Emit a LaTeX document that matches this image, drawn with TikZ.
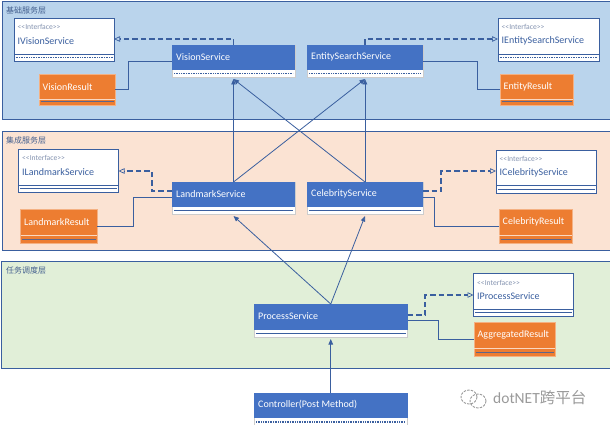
\documentclass[tikz,border=0pt]{standalone}
\usepackage{fontspec}
\setmainfont{Carlito}
\newfontfamily\cjkfont{Noto Sans CJK SC}
\usetikzlibrary{arrows.meta}
\definecolor{edgeblue}{HTML}{3A5F9F}
\definecolor{headblue}{HTML}{4472C4}
\definecolor{resorange}{HTML}{ED7D31}
\definecolor{layerblue}{HTML}{BAD4EC}
\definecolor{layerorange}{HTML}{FBE3D3}
\definecolor{layergreen}{HTML}{E1EFD8}
\definecolor{labelink}{HTML}{44608F}
\definecolor{stereoink}{HTML}{8493B0}
\definecolor{markgrey}{HTML}{9A9A9A}
\tikzset{
  layerbox/.style={draw=edgeblue,line width=0.9pt,inner sep=0pt,outer sep=0pt,anchor=north west},
  layerlabel/.style={anchor=west,inner sep=0pt,text=labelink,font=\cjkfont\fontsize{8}{9}\selectfont},
  ifacebox/.style={draw=edgeblue,fill=white,line width=0.8pt,inner sep=0pt,outer sep=0pt,anchor=north west},
  classbox/.style={draw=black!20,fill=white,line width=0.6pt,inner sep=0pt,outer sep=0pt,anchor=north west},
  resultbox/.style={draw=resorange!60,fill=resorange,line width=0.6pt,inner sep=0pt,outer sep=0pt,anchor=north west},
  namelabel/.style={anchor=west,inner sep=0pt,font=\fontsize{10}{12}\selectfont},
  stereolabel/.style={anchor=west,inner sep=0pt,text=stereoink,font=\fontsize{7.6}{9}\selectfont},
  realizes/.style={draw=edgeblue,line width=1.7pt,dash pattern=on 5.5pt off 3pt,shorten >=6pt},
  hollowtip/.style={draw=edgeblue,line width=0.7pt,-{Triangle[open,length=6pt,width=5.5pt]}},
  assoc/.style={draw=edgeblue,line width=0.8pt},
  uses/.style={draw=edgeblue,line width=0.8pt,-{Triangle[length=5.5pt,width=4.5pt]}},
  strip/.style={draw=edgeblue,line width=1pt},
  dotstrip/.style={draw=edgeblue,line width=1.2pt,dash pattern=on 1pt off 0.7pt},
}
% name, x1, y1, x2, y2, style
\newcommand{\placebox}[6]{%
  \pgfmathsetlengthmacro{\boxw}{(#4-#2)*1pt}%
  \pgfmathsetlengthmacro{\boxh}{(#5-#3)*1pt}%
  \node[#6,minimum width=\boxw,minimum height=\boxh] (#1) at (#2,#3) {};
}
% name, x1, y1, x2, y2, ydiv, strip style, text
\newcommand{\ifaceitem}[8]{%
  \placebox{#1}{#2}{#3}{#4}{#5}{ifacebox}
  \draw[edgeblue,line width=0.8pt] (#2,#6) -- (#4,#6);
  \path[#7] (#2+1.5,{(#6+#5)/2}) -- (#4-1.5,{(#6+#5)/2});
  \node[stereolabel] (#1-s) at (#2+3.5,#3+9) {<{}<Interface>{}>};
  \node[namelabel,text=edgeblue] (#1-t) at (#2+3.5,#3+23) {#8};
}
\newcommand{\classitem}[8]{%
  \placebox{#1}{#2}{#3}{#4}{#5}{classbox}
  \fill[headblue] (#2,#3) rectangle (#4,#6);
  \path[#7] (#2+2,{(#6+#5)/2}) -- (#4-2,{(#6+#5)/2});
  \node[namelabel,text=white] (#1-t) at (#2+4,#3+12) {#8};
}
\newcommand{\resultitem}[7]{%
  \placebox{#1}{#2}{#3}{#4}{#5}{resultbox}
  \draw[white!70!resorange,line width=0.6pt] (#2,#6) -- (#4,#6);
  \draw[edgeblue!80!resorange,line width=1pt] (#2+1.5,{(#6+#5)/2}) -- (#4-1.5,{(#6+#5)/2});
  \node[namelabel,text=white] (#1-t) at (#2+3.5,#3+13) {#7};
}
\begin{document}
\begin{tikzpicture}[x=1pt,y=-1pt]
\useasboundingbox (0,0) rectangle (610,425);
\clip (0,0) rectangle (610,425);
\fill[white] (0,0) rectangle (610,425);
% layers
\placebox{layerA}{2.5}{1}{612}{119.5}{layerbox,fill=layerblue}
\placebox{layerB}{2.5}{131}{612}{250}{layerbox,fill=layerorange}
\placebox{layerC}{1.5}{261}{612}{368}{layerbox,fill=layergreen}
\node[layerlabel] (layerA-t) at (6,10.5) {基础服务层};
\node[layerlabel] (layerB-t) at (6,140.5) {集成服务层};
\node[layerlabel] (layerC-t) at (6,270.5) {任务调度层};
% interfaces
\ifaceitem{ivs}{14}{18}{114}{61}{54}{dotstrip}{IVisionService}
\ifaceitem{ies}{498}{18}{599.5}{61}{54}{dotstrip}{IEntitySearchService}
\ifaceitem{ils}{18.5}{149}{118.5}{192.5}{185}{strip}{ILandmarkService}
\ifaceitem{ics}{496}{150}{596.5}{193}{185}{strip}{ICelebrityService}
\ifaceitem{ips}{473.5}{273.5}{573.5}{316.5}{309}{strip}{IProcessService}
% services
\classitem{vs}{172}{45}{295}{77}{70}{dotstrip}{VisionService}
\classitem{es}{307}{45}{423}{77}{70}{dotstrip}{EntitySearchService}
\classitem{ls}{172}{182}{295}{214}{207}{strip}{LandmarkService}
\classitem{cs}{307}{182}{423}{214}{207}{strip}{CelebrityService}
\classitem{ps}{254}{304}{407.5}{337}{330}{strip}{ProcessService}
\classitem{ctl}{254}{393}{407.5}{426}{418}{dotstrip}{Controller(Post Method)}
% results
\resultitem{vr}{39}{74}{115}{105}{99}{VisionResult}
\resultitem{er}{500}{74}{573}{105}{99}{EntityResult}
\resultitem{lr}{20.5}{209}{97}{243}{235}{LandmarkResult}
\resultitem{cr}{499}{209}{572}{243}{235}{CelebrityResult}
\resultitem{ar}{474}{322}{555}{356}{348}{AggregatedResult}
% realization (dashed, hollow head)
\draw[realizes] (vs.north) |- ([yshift=.5pt]ivs.east);
\draw[hollowtip] ([xshift=6.5pt,yshift=.5pt]ivs.east) -- ([yshift=.5pt]ivs.east);
\draw[realizes] (es.north) |- ([yshift=.5pt]ies.west);
\draw[hollowtip] ([xshift=-6.5pt,yshift=.5pt]ies.west) -- ([yshift=.5pt]ies.west);
\draw[realizes] ([yshift=7pt]ls.west) -- ++(-20,0) |- ([yshift=-.25pt]ils.east);
\draw[hollowtip] ([xshift=6.5pt,yshift=-.25pt]ils.east) -- ([yshift=-.25pt]ils.east);
\draw[realizes] ([yshift=7pt]cs.east) -- ++(18,0) |- ([yshift=.5pt]ics.west);
\draw[hollowtip] ([xshift=-6.5pt,yshift=.5pt]ics.west) -- ([yshift=.5pt]ics.west);
\draw[realizes] ([yshift=5.5pt]ps.east) -- ++(17.5,0) |- (ips.west);
\draw[hollowtip] ([xshift=-6.5pt]ips.west) -- (ips.west);
% associations
\draw[assoc] (vr.east) -- ++(13,0) |- (vs.west);
\draw[assoc] (es.east) -- ++(54,0) |- (er.west);
\draw[assoc] (lr.east) -- ++(36,0) |- ([yshift=1pt]ls.west);
\draw[assoc] ([yshift=1pt]cs.east) -- ++(11,0) |- (cr.west);
\draw[assoc] (ps.east) -- ++(30.5,0) |- (ar.west);
% dependencies
\draw[uses] (ls.north) -- ([yshift=-2pt]vs.south);
\draw[uses] (ls.north) -- ([yshift=-2pt]es.south);
\draw[uses] (cs.north) -- ([yshift=-2pt]es.south);
\draw[uses] (cs.north) -- ([yshift=-2pt]vs.south);
\draw[uses] (ps.north) -- ([yshift=-2pt]ls.south);
\draw[uses] (ps.north) -- ([yshift=-2pt]cs.south);
\draw[uses] (ctl.north) -- ([yshift=-2pt]ps.south);
% watermark
\draw[markgrey,line width=0.9pt,dash pattern=on 2.5pt off 1.2pt] (469,397) circle[x radius=8,y radius=7];
\draw[markgrey,line width=0.9pt,dash pattern=on 2.5pt off 1.2pt] (478,401) circle[x radius=8,y radius=7];
\node[anchor=west,inner sep=0pt,text=markgrey] (mark) at (493,398) {\fontsize{15.5}{17}\selectfont dotNET\cjkfont 跨平台};
\end{tikzpicture}
\end{document}
